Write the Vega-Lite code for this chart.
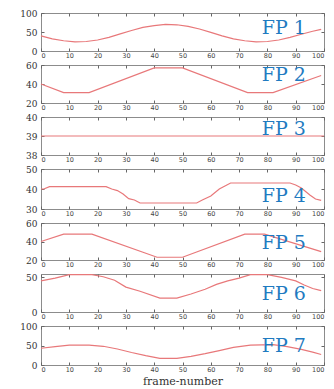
{
  "$schema": "https://vega.github.io/schema/vega-lite/v6.json",
  "padding": {"left": 0, "top": 8, "right": 5, "bottom": 0},
  "background": "white",
  "bounds": "flush",
  "datasets": {
    "fp": [
      {"panel":1,"frame":0,"value":40},{"panel":1,"frame":4,"value":32},{"panel":1,"frame":8,"value":27},{"panel":1,"frame":12,"value":24},{"panel":1,"frame":16,"value":25},{"panel":1,"frame":20,"value":29},{"panel":1,"frame":24,"value":36},{"panel":1,"frame":28,"value":45},{"panel":1,"frame":32,"value":54},{"panel":1,"frame":36,"value":62},{"panel":1,"frame":40,"value":67},{"panel":1,"frame":44,"value":70},{"panel":1,"frame":48,"value":69},{"panel":1,"frame":52,"value":65},{"panel":1,"frame":56,"value":58},{"panel":1,"frame":60,"value":49},{"panel":1,"frame":64,"value":40},{"panel":1,"frame":68,"value":32},{"panel":1,"frame":72,"value":27},{"panel":1,"frame":76,"value":24},{"panel":1,"frame":80,"value":25},{"panel":1,"frame":84,"value":29},{"panel":1,"frame":88,"value":36},{"panel":1,"frame":92,"value":44},{"panel":1,"frame":96,"value":52},{"panel":1,"frame":99,"value":57},
      {"panel":2,"frame":0,"value":40},{"panel":2,"frame":8,"value":31},{"panel":2,"frame":17,"value":31},{"panel":2,"frame":40,"value":57},{"panel":2,"frame":50,"value":57},{"panel":2,"frame":73,"value":31},{"panel":2,"frame":82,"value":31},{"panel":2,"frame":99,"value":49},
      {"panel":3,"frame":0,"value":39},{"panel":3,"frame":100,"value":39},
      {"panel":4,"frame":0,"value":40},{"panel":4,"frame":1,"value":40},{"panel":4,"frame":3,"value":41.2},{"panel":4,"frame":23,"value":41.2},{"panel":4,"frame":25,"value":40},{"panel":4,"frame":27,"value":39.2},{"panel":4,"frame":29,"value":37.5},{"panel":4,"frame":31,"value":35.2},{"panel":4,"frame":33,"value":34.5},{"panel":4,"frame":35,"value":33},{"panel":4,"frame":55,"value":33},{"panel":4,"frame":57,"value":34.5},{"panel":4,"frame":60,"value":36.5},{"panel":4,"frame":63,"value":40},{"panel":4,"frame":65,"value":41.5},{"panel":4,"frame":67,"value":43},{"panel":4,"frame":88,"value":43},{"panel":4,"frame":90,"value":42},{"panel":4,"frame":92,"value":40.5},{"panel":4,"frame":95,"value":37},{"panel":4,"frame":97,"value":35},{"panel":4,"frame":99,"value":34.3},
      {"panel":5,"frame":0,"value":40},{"panel":5,"frame":8,"value":48},{"panel":5,"frame":18,"value":48},{"panel":5,"frame":41,"value":23},{"panel":5,"frame":50,"value":23},{"panel":5,"frame":72,"value":48},{"panel":5,"frame":79,"value":48},{"panel":5,"frame":99,"value":29},
      {"panel":6,"frame":0,"value":45},{"panel":6,"frame":5,"value":49},{"panel":6,"frame":10,"value":54},{"panel":6,"frame":18,"value":54},{"panel":6,"frame":22,"value":51},{"panel":6,"frame":26,"value":46},{"panel":6,"frame":30,"value":36},{"panel":6,"frame":35,"value":30},{"panel":6,"frame":42,"value":20},{"panel":6,"frame":48,"value":20},{"panel":6,"frame":53,"value":26},{"panel":6,"frame":58,"value":33},{"panel":6,"frame":62,"value":40},{"panel":6,"frame":66,"value":45},{"panel":6,"frame":70,"value":49},{"panel":6,"frame":74,"value":54},{"panel":6,"frame":80,"value":54},{"panel":6,"frame":85,"value":50},{"panel":6,"frame":90,"value":45},{"panel":6,"frame":93,"value":39},{"panel":6,"frame":96,"value":34},{"panel":6,"frame":99,"value":31},
      {"panel":7,"frame":0,"value":43},{"panel":7,"frame":5,"value":47},{"panel":7,"frame":10,"value":51},{"panel":7,"frame":17,"value":51},{"panel":7,"frame":22,"value":48},{"panel":7,"frame":27,"value":41},{"panel":7,"frame":32,"value":32},{"panel":7,"frame":37,"value":24},{"panel":7,"frame":42,"value":17},{"panel":7,"frame":48,"value":17},{"panel":7,"frame":53,"value":22},{"panel":7,"frame":58,"value":29},{"panel":7,"frame":63,"value":37},{"panel":7,"frame":68,"value":45},{"panel":7,"frame":74,"value":51},{"panel":7,"frame":82,"value":52},{"panel":7,"frame":87,"value":47},{"panel":7,"frame":92,"value":40},{"panel":7,"frame":96,"value":33},{"panel":7,"frame":99,"value":27}
    ]
  },
  "vconcat": [
    {"width":283,"height":38,"resolve":{"axis":{"x":"independent","y":"independent"}},"layer":[
      {"data":{"name":"fp"},"transform":[{"filter":"datum.panel==1"}],"mark":{"type":"line","color":"#e8787a","strokeWidth":1.2},
       "encoding":{"x":{"field":"frame","type":"quantitative","scale":{"domain":[0,100],"nice":false},"axis":{"values":[0,10,20,30,40,50,60,70,80,90,100],"title":null,"labelOverlap":false}},
                   "y":{"field":"value","type":"quantitative","scale":{"domain":[0,100],"nice":false},"axis":{"values":[0,50,100],"title":null,"labelOverlap":false}}}},
      {"data":{"name":"fp"},"transform":[{"filter":"datum.panel==1"}],"mark":{"type":"line","opacity":0},
       "encoding":{"x":{"field":"frame","type":"quantitative","axis":{"orient":"top","values":[0,10,20,30,40,50,60,70,80,90,100],"labels":false,"title":null}},
                   "y":{"field":"value","type":"quantitative","axis":{"orient":"right","values":[0,50,100],"labels":false,"title":null,"minExtent":0,"maxExtent":0}}}},
      {"data":{"values":[{"label":"FP 1"}]},"mark":{"type":"text","font":"DejaVu Serif","fontSize":19,"color":"#1f7bc1","align":"left","baseline":"alphabetic"},
       "encoding":{"x":{"datum":78,"axis":null},"y":{"datum":46,"axis":null},"text":{"field":"label"}}}
    ]},
    {"width":283,"height":38,"resolve":{"axis":{"x":"independent","y":"independent"}},"layer":[
      {"data":{"name":"fp"},"transform":[{"filter":"datum.panel==2"}],"mark":{"type":"line","color":"#e8787a","strokeWidth":1.2},
       "encoding":{"x":{"field":"frame","type":"quantitative","scale":{"domain":[0,100],"nice":false},"axis":{"values":[0,10,20,30,40,50,60,70,80,90,100],"title":null,"labelOverlap":false}},
                   "y":{"field":"value","type":"quantitative","scale":{"domain":[20,60],"nice":false},"axis":{"values":[20,40,60],"title":null,"labelOverlap":false}}}},
      {"data":{"name":"fp"},"transform":[{"filter":"datum.panel==2"}],"mark":{"type":"line","opacity":0},
       "encoding":{"x":{"field":"frame","type":"quantitative","axis":{"orient":"top","values":[0,10,20,30,40,50,60,70,80,90,100],"labels":false,"title":null}},
                   "y":{"field":"value","type":"quantitative","axis":{"orient":"right","values":[20,40,60],"labels":false,"title":null,"minExtent":0,"maxExtent":0}}}},
      {"data":{"values":[{"label":"FP 2"}]},"mark":{"type":"text","font":"DejaVu Serif","fontSize":19,"color":"#1f7bc1","align":"left","baseline":"alphabetic"},
       "encoding":{"x":{"datum":78,"axis":null},"y":{"datum":43,"axis":null},"text":{"field":"label"}}}
    ]},
    {"width":283,"height":38,"resolve":{"axis":{"x":"independent","y":"independent"}},"layer":[
      {"data":{"name":"fp"},"transform":[{"filter":"datum.panel==3"}],"mark":{"type":"line","color":"#e8787a","strokeWidth":1.2},
       "encoding":{"x":{"field":"frame","type":"quantitative","scale":{"domain":[0,100],"nice":false},"axis":{"values":[0,10,20,30,40,50,60,70,80,90,100],"title":null,"labelOverlap":false}},
                   "y":{"field":"value","type":"quantitative","scale":{"domain":[38,40],"nice":false},"axis":{"values":[38,39,40],"labelExpr":"round(datum.value) + ''","title":null,"labelOverlap":false}}}},
      {"data":{"name":"fp"},"transform":[{"filter":"datum.panel==3"}],"mark":{"type":"line","opacity":0},
       "encoding":{"x":{"field":"frame","type":"quantitative","axis":{"orient":"top","values":[0,10,20,30,40,50,60,70,80,90,100],"labels":false,"title":null}},
                   "y":{"field":"value","type":"quantitative","axis":{"orient":"right","values":[38,39,40],"labels":false,"title":null,"minExtent":0,"maxExtent":0}}}},
      {"data":{"values":[{"label":"FP 3"}]},"mark":{"type":"text","font":"DejaVu Serif","fontSize":19,"color":"#1f7bc1","align":"left","baseline":"alphabetic"},
       "encoding":{"x":{"datum":78,"axis":null},"y":{"datum":39.05,"axis":null},"text":{"field":"label"}}}
    ]},
    {"width":283,"height":40,"resolve":{"axis":{"x":"independent","y":"independent"}},"layer":[
      {"data":{"name":"fp"},"transform":[{"filter":"datum.panel==4"}],"mark":{"type":"line","color":"#e8787a","strokeWidth":1.2},
       "encoding":{"x":{"field":"frame","type":"quantitative","scale":{"domain":[0,100],"nice":false},"axis":{"values":[0,10,20,30,40,50,60,70,80,90,100],"title":null,"labelOverlap":false}},
                   "y":{"field":"value","type":"quantitative","scale":{"domain":[30,50],"nice":false},"axis":{"values":[30,40,50],"title":null,"labelOverlap":false}}}},
      {"data":{"name":"fp"},"transform":[{"filter":"datum.panel==4"}],"mark":{"type":"line","opacity":0},
       "encoding":{"x":{"field":"frame","type":"quantitative","axis":{"orient":"top","values":[0,10,20,30,40,50,60,70,80,90,100],"labels":false,"title":null}},
                   "y":{"field":"value","type":"quantitative","axis":{"orient":"right","values":[30,40,50],"labels":false,"title":null,"minExtent":0,"maxExtent":0}}}},
      {"data":{"values":[{"label":"FP 4"}]},"mark":{"type":"text","font":"DejaVu Serif","fontSize":19,"color":"#1f7bc1","align":"left","baseline":"alphabetic"},
       "encoding":{"x":{"datum":78,"axis":null},"y":{"datum":33.5,"axis":null},"text":{"field":"label"}}}
    ]},
    {"width":283,"height":37,"resolve":{"axis":{"x":"independent","y":"independent"}},"layer":[
      {"data":{"name":"fp"},"transform":[{"filter":"datum.panel==5"}],"mark":{"type":"line","color":"#e8787a","strokeWidth":1.2},
       "encoding":{"x":{"field":"frame","type":"quantitative","scale":{"domain":[0,100],"nice":false},"axis":{"values":[0,10,20,30,40,50,60,70,80,90,100],"title":null,"labelOverlap":false}},
                   "y":{"field":"value","type":"quantitative","scale":{"domain":[20,60],"nice":false},"axis":{"values":[20,40,60],"title":null,"labelOverlap":false}}}},
      {"data":{"name":"fp"},"transform":[{"filter":"datum.panel==5"}],"mark":{"type":"line","opacity":0},
       "encoding":{"x":{"field":"frame","type":"quantitative","axis":{"orient":"top","values":[0,10,20,30,40,50,60,70,80,90,100],"labels":false,"title":null}},
                   "y":{"field":"value","type":"quantitative","axis":{"orient":"right","values":[20,40,60],"labels":false,"title":null,"minExtent":0,"maxExtent":0}}}},
      {"data":{"values":[{"label":"FP 5"}]},"mark":{"type":"text","font":"DejaVu Serif","fontSize":19,"color":"#1f7bc1","align":"left","baseline":"alphabetic"},
       "encoding":{"x":{"datum":78,"axis":null},"y":{"datum":32.2,"axis":null},"text":{"field":"label"}}}
    ]},
    {"width":283,"height":38,"resolve":{"axis":{"x":"independent","y":"independent"}},"layer":[
      {"data":{"name":"fp"},"transform":[{"filter":"datum.panel==6"}],"mark":{"type":"line","color":"#e8787a","strokeWidth":1.2},
       "encoding":{"x":{"field":"frame","type":"quantitative","scale":{"domain":[0,100],"nice":false},"axis":{"values":[0,10,20,30,40,50,60,70,80,90,100],"title":null,"labelOverlap":false}},
                   "y":{"field":"value","type":"quantitative","scale":{"domain":[0,55],"nice":false},"axis":{"values":[0,50],"title":null,"labelOverlap":false}}}},
      {"data":{"name":"fp"},"transform":[{"filter":"datum.panel==6"}],"mark":{"type":"line","opacity":0},
       "encoding":{"x":{"field":"frame","type":"quantitative","axis":{"orient":"top","values":[0,10,20,30,40,50,60,70,80,90,100],"labels":false,"title":null}},
                   "y":{"field":"value","type":"quantitative","axis":{"orient":"right","values":[0,50],"labels":false,"title":null,"minExtent":0,"maxExtent":0}}}},
      {"data":{"values":[{"label":"FP 6"}]},"mark":{"type":"text","font":"DejaVu Serif","fontSize":19,"color":"#1f7bc1","align":"left","baseline":"alphabetic"},
       "encoding":{"x":{"datum":78,"axis":null},"y":{"datum":17,"axis":null},"text":{"field":"label"}}}
    ]},
    {"width":283,"height":39,"resolve":{"axis":{"x":"independent","y":"independent"}},"layer":[
      {"data":{"name":"fp"},"transform":[{"filter":"datum.panel==7"}],"mark":{"type":"line","color":"#e8787a","strokeWidth":1.2},
       "encoding":{"x":{"field":"frame","type":"quantitative","scale":{"domain":[0,100],"nice":false},"axis":{"values":[0,10,20,30,40,50,60,70,80,90,100],"labelOverlap":false,"title":"frame-number","titleFont":"DejaVu Serif","titleFontSize":11,"titleFontWeight":"normal","titleColor":"#333","titlePadding":3}},
                   "y":{"field":"value","type":"quantitative","scale":{"domain":[0,100],"nice":false},"axis":{"values":[0,50,100],"title":null,"labelOverlap":false}}}},
      {"data":{"name":"fp"},"transform":[{"filter":"datum.panel==7"}],"mark":{"type":"line","opacity":0},
       "encoding":{"x":{"field":"frame","type":"quantitative","axis":{"orient":"top","values":[0,10,20,30,40,50,60,70,80,90,100],"labels":false,"title":null}},
                   "y":{"field":"value","type":"quantitative","axis":{"orient":"right","values":[0,50,100],"labels":false,"title":null,"minExtent":0,"maxExtent":0}}}},
      {"data":{"values":[{"label":"FP 7"}]},"mark":{"type":"text","font":"DejaVu Serif","fontSize":19,"color":"#1f7bc1","align":"left","baseline":"alphabetic"},
       "encoding":{"x":{"datum":78,"axis":null},"y":{"datum":34,"axis":null},"text":{"field":"label"}}}
    ]}
  ],
  "spacing": 14,
  "config": {
    "view": {"stroke": "#8c8c8c", "strokeWidth": 1},
    "axis": {"grid": false, "domain": false, "tickColor": "#666", "labelColor": "#333", "ticks": true, "labelOverlap": false},
    "axisX": {"tickSize": -3, "labelFont": "DejaVu Sans", "labelFontSize": 6.5, "labelPadding": 4, "labelColor": "#444", "labelOverlap": false},
    "axisY": {"tickSize": -3, "labelFont": "DejaVu Serif", "labelFontSize": 9, "labelPadding": 7, "minExtent": 40, "maxExtent": 40, "labelOverlap": false}
  }
}
